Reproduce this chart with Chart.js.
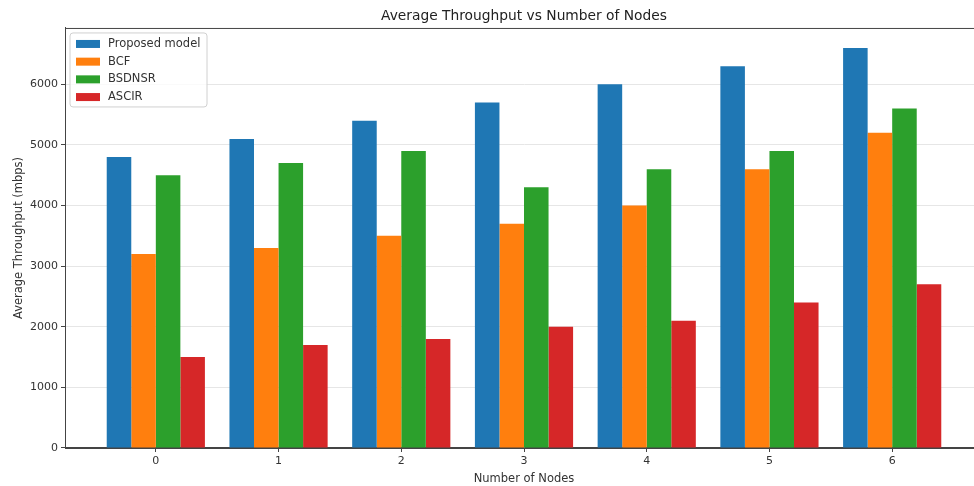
<!DOCTYPE html>
<html>
<head>
<meta charset="utf-8">
<script src="https://cdn.jsdelivr.net/npm/chart.js@4/dist/chart.umd.min.js"></script>
<style>
  html, body { margin: 0; padding: 0; background: #fff; overflow: hidden; }
  #wrap { width: 974px; height: 486px; overflow: hidden; }
  canvas { display: block; }
</style>
</head>
<body>
<div id="wrap"><canvas id="c" width="1000" height="486"></canvas></div>
<script>
// Number of nodes (x positions) and average throughput per scheme, in mbps
const nodes = [0, 1, 2, 3, 4, 5, 6];
const proposedModel = [4800, 5100, 5400, 5700, 6000, 6300, 6600];
const bcf = [3200, 3300, 3500, 3700, 4000, 4600, 5200];
const bsdnsr = [4500, 4700, 4900, 4300, 4600, 4900, 5600];
const ascir = [1500, 1700, 1800, 2000, 2100, 2400, 2700];
const yTicks = [0, 1000, 2000, 3000, 4000, 5000, 6000];

const FONT = "'DejaVu Sans', sans-serif";
const TEXT = '#333';
const AXIS = '#444';

// Frame around the plot area plus a boxed legend in the upper-left corner
const framePlugin = {
  id: 'frameAndLegend',
  afterDatasetsDraw(chart) {
    const { ctx, chartArea: a } = chart;
    ctx.save();
    ctx.strokeStyle = AXIS;
    ctx.lineWidth = 1;
    ctx.strokeRect(a.left + 0.5, a.top + 0.5, a.right - a.left - 1, a.bottom - a.top);

    const x0 = a.left + 5, y0 = a.top + 5, w = 137, h = 74, r = 3;
    ctx.beginPath();
    ctx.moveTo(x0 + r, y0);
    ctx.arcTo(x0 + w, y0, x0 + w, y0 + h, r);
    ctx.arcTo(x0 + w, y0 + h, x0, y0 + h, r);
    ctx.arcTo(x0, y0 + h, x0, y0, r);
    ctx.arcTo(x0, y0, x0 + w, y0, r);
    ctx.closePath();
    ctx.fillStyle = 'rgba(255,255,255,0.8)';
    ctx.fill();
    ctx.strokeStyle = '#d0d0d0';
    ctx.stroke();

    ctx.font = '11.5px ' + FONT;
    ctx.textBaseline = 'middle';
    ctx.textAlign = 'left';
    chart.data.datasets.forEach((ds, i) => {
      const cy = y0 + 11 + i * 17.7;
      ctx.fillStyle = ds.backgroundColor;
      ctx.fillRect(x0 + 6, cy - 4, 24, 8);
      ctx.fillStyle = TEXT;
      ctx.fillText(ds.label, x0 + 38, cy);
    });
    ctx.restore();
  }
};

new Chart(document.getElementById('c'), {
  type: 'bar',
  data: {
    labels: nodes,
    datasets: [
      { label: 'Proposed model', data: proposedModel, backgroundColor: '#1f77b4' },
      { label: 'BCF', data: bcf, backgroundColor: '#ff7f0e' },
      { label: 'BSDNSR', data: bsdnsr, backgroundColor: '#2ca02c' },
      { label: 'ASCIR', data: ascir, backgroundColor: '#d62728' }
    ]
  },
  options: {
    responsive: false,
    animation: false,
    events: [],
    layout: { padding: { left: 0, right: 17, top: 0, bottom: 0 } },
    datasets: {
      bar: { categoryPercentage: 0.8, barPercentage: 1.0, borderWidth: 0 }
    },
    plugins: {
      legend: { display: false },
      tooltip: { enabled: false },
      title: {
        display: true,
        fullSize: false,
        text: 'Average Throughput vs Number of Nodes',
        color: '#222',
        font: { family: FONT, size: 13.8, weight: 'normal' },
        padding: { top: 8.5, bottom: 2.9 }
      }
    },
    scales: {
      x: {
        type: 'linear',
        offset: false,
        min: -0.74,
        max: 6.74,
        afterBuildTicks(scale) { scale.ticks = nodes.map(v => ({ value: v })); },
        afterFit(scale) { scale.height = 38; },
        ticks: {
          color: TEXT,
          font: { family: FONT, size: 11 },
          padding: 3,
          maxRotation: 0,
          autoSkip: false,
          callback: (v) => String(v)
        },
        grid: { offset: false, drawOnChartArea: false, drawTicks: true, tickLength: 4, tickColor: AXIS },
        border: { display: true, color: AXIS },
        title: {
          display: true,
          text: 'Number of Nodes',
          color: TEXT,
          font: { family: FONT, size: 11.5 },
          padding: { top: 0, bottom: 0.5 }
        }
      },
      y: {
        min: 0,
        max: 6930,
        afterBuildTicks(scale) { scale.ticks = yTicks.map(v => ({ value: v })); },
        afterFit(scale) { scale.width = 65; },
        ticks: {
          color: TEXT,
          font: { family: FONT, size: 11 },
          padding: 3,
          callback: (v) => String(v)
        },
        grid: { color: '#e6e6e6', lineWidth: 1, drawTicks: true, tickLength: 4, tickColor: AXIS },
        border: { display: true, color: AXIS },
        title: {
          display: true,
          text: 'Average Throughput (mbps)',
          color: TEXT,
          font: { family: FONT, size: 11.5 },
          padding: { top: 12, bottom: 0 }
        }
      }
    }
  },
  plugins: [framePlugin]
});
</script>
</body>
</html>
